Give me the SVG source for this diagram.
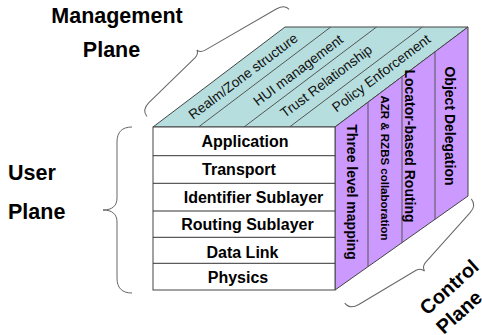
<svg xmlns="http://www.w3.org/2000/svg" width="482" height="335" viewBox="0 0 482 335">
<style>
  .face { stroke: #444; stroke-width: 1; }
  .top { fill: #B7DEDE; }
  .side { fill: #CC99FF; }
  .front { fill: #FFFFFF; }
  .div { stroke: #555; stroke-width: 1; fill: none; }
  .row { stroke: #333; stroke-width: 1; }
  .brace { fill: none; stroke: #666; stroke-width: 1; }
  .lbl { font-family: "Liberation Sans", Arial, sans-serif; font-weight: bold; font-size: 21.5px; fill: #000; }
  .layer { font-family: "Liberation Sans", Arial, sans-serif; font-weight: bold; font-size: 16px; fill: #000; text-anchor: middle; }
  .mgmt { font-family: "Liberation Sans", Arial, sans-serif; font-size: 13.8px; fill: #111; text-anchor: middle; }
  .ctrl { font-family: "Liberation Sans", Arial, sans-serif; font-weight: bold; font-size: 14px; fill: #000; text-anchor: middle; }
</style>

<g id="management-plane">
  <polygon class="face top" points="153,127 285,27 468,27 335,127"/>
  <line class="div" x1="198.5" y1="127" x2="330.75" y2="27"/>
  <line class="div" x1="244" y1="127" x2="376.5" y2="27"/>
  <line class="div" x1="289.5" y1="127" x2="422.25" y2="27"/>
  <text class="mgmt" transform="translate(243,76) rotate(-37)" y="5">Realm/Zone structure</text>
  <text class="mgmt" transform="translate(298,70) rotate(-37)" y="5">HUI management</text>
  <text class="mgmt" transform="translate(326,81) rotate(-37)" y="5">Trust Relationship</text>
  <text class="mgmt" transform="translate(381,73) rotate(-37)" y="5">Policy Enforcement</text>
</g>

<g id="control-plane">
  <polygon class="face side" points="335,127 468,27 468,196 335,290"/>
  <line class="div" x1="368" y1="102.2" x2="368" y2="266.7"/>
  <line class="div" x1="402" y1="76.6" x2="402" y2="242.6"/>
  <line class="div" x1="435" y1="51.8" x2="435" y2="219.3"/>
  <text class="ctrl" transform="translate(352,192) rotate(90)" y="5">Three level mapping</text>
  <text class="ctrl" transform="translate(385,168) rotate(90)" y="4" style="font-size:11.5px">AZR &amp; RZBS collaboration</text>
  <text class="ctrl" transform="translate(410,146) rotate(90)" y="5">Locator-based Routing</text>
  <text class="ctrl" transform="translate(450,126) rotate(90)" y="5">Object Delegation</text>
</g>

<g id="user-plane">
  <rect class="face front" x="153" y="127" width="182" height="163"/>
  <line class="row" x1="153" y1="155.7" x2="335" y2="155.7"/>
  <line class="row" x1="153" y1="183.3" x2="335" y2="183.3"/>
  <line class="row" x1="153" y1="211" x2="335" y2="211"/>
  <line class="row" x1="153" y1="237.3" x2="335" y2="237.3"/>
  <line class="row" x1="153" y1="263.3" x2="335" y2="263.3"/>
  <text class="layer" x="245" y="147">Application</text>
  <text class="layer" x="239" y="175">Transport</text>
  <text class="layer" x="253.5" y="203">Identifier Sublayer</text>
  <text class="layer" x="247.5" y="230">Routing Sublayer</text>
  <text class="layer" x="242.5" y="257.5">Data Link</text>
  <text class="layer" x="238" y="283">Physics</text>
</g>

<g id="braces">
  <path class="brace" transform="translate(210.8,68.4) rotate(-37)" d="M -80,0 C -80,-5 -77,-9 -70,-10 L -6,-18 Q -1,-19 0,-23 Q 1,-19 6,-18 L 88,-8 C 95,-7 98,-4 98,0"/>
  <path class="brace" d="M 132,127 C 122,127 117,132 117,142 L 117,198 C 117,206 112,210 103,210 C 112,210 117,214 117,222 L 117,278 C 117,288 122,293 132,293"/>
  <path class="brace" transform="translate(408,251) rotate(-39.5)" d="M -82,0 C -82,5 -79,9 -72,10 L -6,20 Q -1,21 0,26 Q 1,21 6,20 L 72,10 C 79,9 82,5 82,0"/>
</g>

<g id="labels">
  <text class="lbl" x="117" y="23.3" text-anchor="middle">Management</text>
  <text class="lbl" x="111.5" y="57" text-anchor="middle">Plane</text>
  <text class="lbl" x="8" y="180">User</text>
  <text class="lbl" x="8" y="219">Plane</text>
  <text class="lbl" transform="translate(449,287) rotate(-42)" y="7" text-anchor="middle" style="font-size:20px">Control</text>
  <text class="lbl" transform="translate(459,312) rotate(-42)" y="7" text-anchor="middle" style="font-size:20px">Plane</text>
</g>
</svg>
